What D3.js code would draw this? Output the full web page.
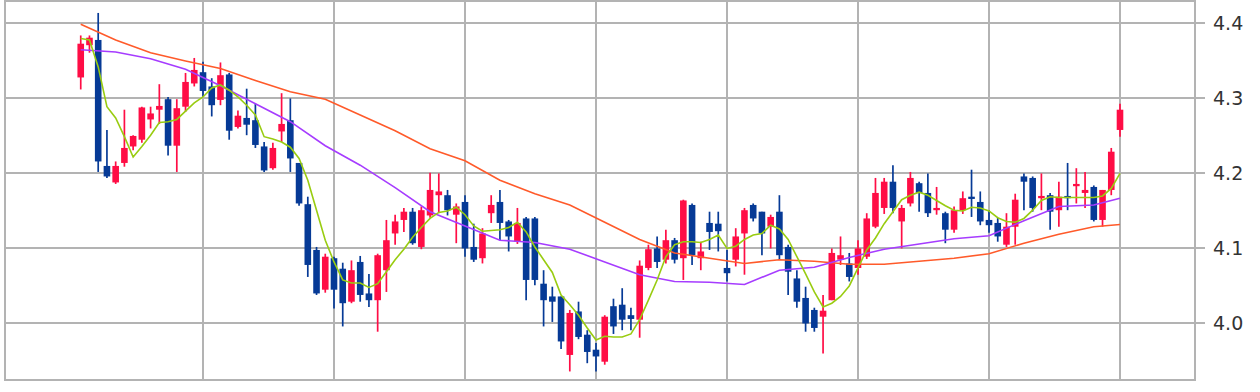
<!DOCTYPE html>
<html>
<head>
<meta charset="utf-8">
<script src="https://cdn.jsdelivr.net/npm/d3@7"></script>
<style>
  body { margin: 0; background: #fff; }
  svg { display: block; }
</style>
</head>
<body>
<script>
var WIDTH = 1260, HEIGHT = 392;
var FRAME = {left: 5, top: 1, right: 1195, bottom: 380};

// daily candles, oldest first
var opens  = [4.327,4.370,4.377,4.209,4.187,4.213,4.235,4.244,4.271,4.284,4.298,4.236,4.288,4.319,4.334,4.315,4.297,4.331,4.261,4.273,
              4.270,4.235,4.206,4.255,4.270,4.213,4.158,4.097,4.044,4.086,4.072,4.028,4.081,4.039,4.030,4.070,4.119,4.137,4.148,4.101,
              4.143,4.170,4.170,4.144,4.161,4.101,4.086,4.146,4.161,4.135,4.108,4.139,4.139,4.052,4.035,4.035,3.957,4.015,3.984,3.964,
              3.948,4.022,4.024,4.010,4.004,4.073,4.099,4.084,4.110,4.086,4.157,4.086,4.133,4.132,4.073,4.084,4.119,4.157,4.148,4.128,
              4.148,4.101,4.059,4.033,4.017,4.008,4.030,4.084,4.079,4.073,4.088,4.128,4.153,4.188,4.135,4.159,4.186,4.173,4.150,4.146,
              4.124,4.150,4.168,4.161,4.137,4.133,4.104,4.128,4.195,4.193,4.166,4.170,4.150,4.169,4.182,4.173,4.181,4.137,4.177,4.257];
var highs  = [4.383,4.383,4.413,4.257,4.215,4.284,4.250,4.288,4.288,4.318,4.301,4.298,4.333,4.353,4.348,4.326,4.347,4.333,4.283,4.312,
              4.292,4.241,4.240,4.306,4.299,4.213,4.168,4.101,4.092,4.088,4.080,4.083,4.089,4.065,4.092,4.137,4.144,4.153,4.153,4.155,
              4.200,4.199,4.177,4.159,4.170,4.132,4.126,4.170,4.177,4.137,4.153,4.141,4.141,4.070,4.048,4.035,4.017,4.028,3.990,3.973,
              4.010,4.032,4.046,4.020,4.083,4.104,4.115,4.124,4.113,4.164,4.159,4.108,4.148,4.148,4.097,4.126,4.153,4.159,4.148,4.144,
              4.170,4.104,4.070,4.048,4.020,4.037,4.099,4.115,4.093,4.110,4.146,4.193,4.193,4.210,4.157,4.201,4.188,4.199,4.181,4.148,
              4.155,4.175,4.204,4.175,4.150,4.140,4.146,4.172,4.199,4.195,4.199,4.173,4.188,4.213,4.206,4.201,4.183,4.177,4.233,4.292];
var lows   = [4.311,4.360,4.201,4.193,4.185,4.208,4.230,4.240,4.259,4.265,4.223,4.201,4.281,4.315,4.301,4.275,4.290,4.244,4.259,4.250,
              4.233,4.201,4.204,4.241,4.201,4.156,4.061,4.037,4.040,4.019,3.995,4.026,4.028,4.021,3.988,4.041,4.104,4.121,4.104,4.098,
              4.140,4.146,4.143,4.106,4.088,4.081,4.079,4.133,4.110,4.095,4.105,4.030,4.050,3.995,4.001,3.965,3.935,3.978,3.946,3.935,
              3.944,3.985,3.990,3.990,3.980,4.070,4.073,4.079,4.079,4.057,4.077,4.070,4.097,4.095,4.055,4.075,4.064,4.135,4.090,4.099,
              4.084,4.037,4.020,3.988,3.988,3.959,4.030,4.077,4.055,4.064,4.085,4.126,4.145,4.146,4.099,4.155,4.148,4.141,4.144,4.106,
              4.120,4.145,4.141,4.130,4.120,4.108,4.101,4.104,4.150,4.148,4.150,4.124,4.128,4.150,4.159,4.153,4.135,4.128,4.170,4.248];
var closes = [4.372,4.380,4.215,4.195,4.209,4.233,4.249,4.287,4.279,4.289,4.236,4.286,4.321,4.337,4.309,4.290,4.330,4.256,4.276,4.264,
              4.237,4.203,4.233,4.265,4.219,4.159,4.077,4.039,4.088,4.044,4.026,4.070,4.037,4.030,4.090,4.110,4.135,4.148,4.106,4.150,
              4.177,4.175,4.150,4.155,4.099,4.084,4.119,4.157,4.133,4.115,4.133,4.057,4.057,4.030,4.028,3.975,4.013,3.981,3.961,3.955,
              4.008,3.995,4.004,4.005,4.076,4.098,4.081,4.110,4.084,4.163,4.090,4.095,4.121,4.122,4.066,4.115,4.150,4.139,4.119,4.141,
              4.090,4.068,4.028,3.999,3.993,4.016,4.093,4.090,4.061,4.099,4.139,4.173,4.188,4.153,4.153,4.193,4.173,4.146,4.153,4.124,
              4.150,4.166,4.165,4.135,4.130,4.115,4.128,4.164,4.188,4.153,4.169,4.148,4.168,4.166,4.185,4.177,4.137,4.177,4.228,4.284];

// short moving average, one value per candle
var maShort = [4.379,4.377,4.341,4.288,4.273,4.248,4.221,4.235,4.250,4.267,4.268,4.271,4.282,4.293,4.301,4.313,4.317,4.310,4.301,4.290,
               4.277,4.248,4.245,4.241,4.234,4.219,4.190,4.150,4.110,4.081,4.057,4.053,4.053,4.047,4.052,4.068,4.084,4.098,4.114,4.127,
               4.139,4.147,4.149,4.154,4.144,4.129,4.122,4.123,4.124,4.127,4.134,4.121,4.101,4.084,4.067,4.037,4.024,4.010,3.993,3.977,
               3.982,3.981,3.981,3.985,4.004,4.030,4.057,4.088,4.104,4.108,4.108,4.107,4.111,4.117,4.099,4.102,4.111,4.117,4.119,4.130,
               4.125,4.111,4.088,4.065,4.041,4.021,4.026,4.035,4.049,4.073,4.097,4.113,4.132,4.148,4.164,4.170,4.174,4.170,4.163,4.156,
               4.150,4.149,4.154,4.153,4.149,4.140,4.135,4.134,4.139,4.150,4.163,4.168,4.167,4.167,4.167,4.167,4.167,4.169,4.179,4.199];

// medium and long moving averages, read every 4th candle
var maIdx  = [0,4,8,12,16,20,24,28,32,36,40,44,48,52,56,60,64,68,72,76,80,84,88,92,96,100,104,108,112,116,119];
var maMid  = [4.364,4.361,4.352,4.338,4.316,4.292,4.268,4.236,4.210,4.180,4.148,4.129,4.110,4.107,4.098,4.081,
              4.064,4.055,4.054,4.051,4.070,4.074,4.087,4.098,4.105,4.112,4.116,4.136,4.155,4.157,4.166];
var maLong = [4.398,4.377,4.360,4.349,4.339,4.323,4.308,4.298,4.277,4.256,4.232,4.216,4.190,4.172,4.157,4.134,
              4.111,4.093,4.086,4.079,4.084,4.082,4.078,4.078,4.082,4.086,4.092,4.106,4.118,4.128,4.131];

var yTicks = [4.0, 4.1, 4.2, 4.3, 4.4];
var xGridIdx = [14, 29, 44, 59, 74, 89, 104, 119];

var UP = "#ff0d45", DOWN = "#063a96";

var svg = d3.select("body").append("svg")
    .attr("width", WIDTH)
    .attr("height", HEIGHT);

var xScale = d3.scaleLinear().domain([14, 119]).range([203, 1120]);
var yScale = d3.scaleLinear().domain([4.0, 4.4]).range([322.7, 22.7]);

// grid
var grid = svg.append("g").attr("stroke", "#b3b3b3").attr("stroke-width", 2);
grid.selectAll(".hl").data(yTicks).enter().append("line")
    .attr("x1", FRAME.left).attr("x2", FRAME.right + 10)
    .attr("y1", function(d){ return Math.round(yScale(d)); })
    .attr("y2", function(d){ return Math.round(yScale(d)); });
grid.selectAll(".vl").data(xGridIdx).enter().append("line")
    .attr("x1", function(d){ return Math.round(xScale(d)); })
    .attr("x2", function(d){ return Math.round(xScale(d)); })
    .attr("y1", FRAME.top).attr("y2", FRAME.bottom);
svg.append("rect")
    .attr("x", FRAME.left).attr("y", FRAME.top)
    .attr("width", FRAME.right - FRAME.left).attr("height", FRAME.bottom - FRAME.top)
    .attr("fill", "none").attr("stroke", "#b3b3b3").attr("stroke-width", 2);

svg.append("g").selectAll("text").data(yTicks).enter().append("text")
    .attr("x", FRAME.right + 18)
    .attr("y", function(d){ return yScale(d); })
    .attr("dy", "0.36em")
    .attr("font-family", "DejaVu Sans, Verdana, sans-serif")
    .attr("font-size", 19)
    .attr("fill", "#333")
    .text(function(d){ return d3.format(".1f")(d); });

// candles
var candles = d3.range(opens.length).map(function(i){
    return {i: i, o: opens[i], h: highs[i], l: lows[i], c: closes[i]};
});
var g = svg.append("g").classed("candles", true);
var bw = 6.6;
var cg = g.selectAll(".candle").data(candles).enter().append("g");
cg.append("line")
    .attr("x1", function(d){ return xScale(d.i); })
    .attr("x2", function(d){ return xScale(d.i); })
    .attr("y1", function(d){ return yScale(d.h); })
    .attr("y2", function(d){ return yScale(d.l); })
    .attr("stroke", function(d){ return d.c >= d.o ? UP : DOWN; })
    .attr("stroke-width", 1.7);
cg.append("rect")
    .attr("x", function(d){ return xScale(d.i) - bw / 2; })
    .attr("width", bw)
    .attr("y", function(d){ return yScale(Math.max(d.o, d.c)); })
    .attr("height", function(d){ return Math.max(1.5, Math.abs(yScale(d.o) - yScale(d.c))); })
    .attr("fill", function(d){ return d.c >= d.o ? UP : DOWN; });

// moving averages
var line = d3.line().x(function(d){ return xScale(d[0]); }).y(function(d){ return yScale(d[1]); });
var drawMa = function(idx, vals, color){
    svg.append("path")
        .datum(idx.map(function(k, j){ return [k, vals[j]]; }))
        .attr("d", line)
        .attr("fill", "none")
        .attr("stroke", color)
        .attr("stroke-width", 1.6);
};
drawMa(maIdx, maLong, "#ff5a2a");
drawMa(maIdx, maMid, "#a63cff");
drawMa(d3.range(maShort.length), maShort, "#99cc11");
</script>
</body>
</html>
